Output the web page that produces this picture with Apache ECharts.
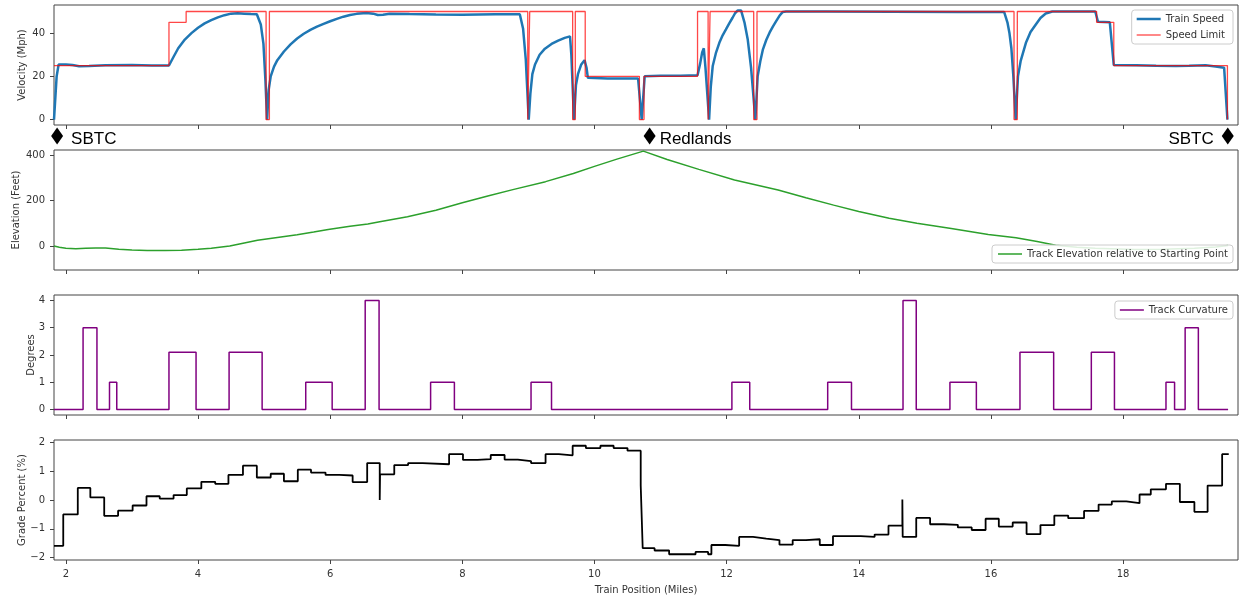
<!DOCTYPE html>
<html><head><meta charset="utf-8">
<script src="https://cdn.jsdelivr.net/npm/echarts@6/dist/echarts.min.js"></script>
<style>html,body{margin:0;padding:0;background:#fff}#c{width:1242px;height:599px}</style>
</head><body><div id="c"></div>
<script>
// ---------------- DATA ----------------
const xTicks = [2, 4, 6, 8, 10, 12, 14, 16, 18];
const speedTicks = [0, 20, 40];
const elevTicks = [0, 200, 400];
const curveTicks = [0, 1, 2, 3, 4];
const gradeTicks = [-2, -1, 0, 1, 2];

const speedX = [1.82,1.86,1.89,2.0,2.1,2.2,2.35,2.6,3.0,3.3,3.56,3.62,3.7,3.8,3.9,4.0,4.1,4.2,4.3,4.4,4.5,4.6,4.7,4.8,4.89,4.95,4.99,5.02,5.045,5.07,5.1,5.15,5.2,5.3,5.4,5.5,5.6,5.7,5.8,5.9,6.0,6.1,6.2,6.3,6.4,6.55,6.65,6.72,6.8,6.9,7.2,7.6,8.0,8.5,8.87,8.92,8.96,9.005,9.03,9.06,9.1,9.17,9.25,9.35,9.45,9.55,9.63,9.65,9.69,9.72,9.75,9.8,9.85,9.88,9.9,10.2,10.5,10.66,10.715,10.76,11.0,11.3,11.56,11.6,11.63,11.655,11.68,11.735,11.76,11.79,11.84,11.89,11.94,11.99,12.04,12.09,12.13,12.17,12.22,12.27,12.32,12.37,12.435,12.47,12.51,12.55,12.6,12.65,12.7,12.75,12.8,12.85,12.9,13.5,14.5,15.5,16.2,16.25,16.28,16.31,16.34,16.375,16.41,16.45,16.53,16.6,16.68,16.75,16.83,16.93,17.58,17.62,17.8,17.86,18.2,18.5,18.8,19.0,19.25,19.4,19.53,19.58];
const speedV = [0,20,25.5,25.5,25.2,24.7,24.8,25.1,25.2,25.0,25.0,28.5,33,37,40,42.5,44.5,46,47.3,48.3,49,49.2,49,48.8,48.7,44,35,18,0,14,20,24.5,27.5,31.5,34.8,37.5,39.7,41.5,43,44.3,45.5,46.6,47.6,48.4,48.9,49.3,49,48.4,48.5,49,48.8,48.6,48.5,48.7,48.7,42,28,0,12,21,25.5,30,32.8,35,36.5,37.8,38.5,30,0,16,21,25.5,27.5,24,19.3,19,19,19,0,20,20.3,20.3,20.5,26,31,33,24,0,15,24.8,31,35.5,39,41.7,44.5,47.1,49.3,50.5,50.4,45,37,24,0,20,27,32.5,36.8,40.2,43,45.5,48,49.8,50,50,49.9,49.8,49.8,45,40.2,33,20,0,20,27,35.5,40.5,44,47,49.1,50,50,45.3,45,25.2,25.1,24.9,24.8,24.9,25.1,24.6,24,0];

const limitX = [1.82,3.56,3.82,5.03,5.08,8.99,9.02,9.67,9.71,9.86,10.68,10.75,11.56,11.72,11.75,12.41,12.46,16.35,16.40,17.60,17.86,19.58];
const limitV = [25,45,50,0,50,0,50,0,50,20,0,20,50,0,50,0,50,0,50,45,25,0];

const elevX = [1.82,1.9,2.0,2.15,2.3,2.45,2.6,2.8,3.0,3.23,3.5,3.75,4.0,4.2,4.48,4.7,4.9,5.2,5.5,5.75,5.97,6.3,6.57,6.75,7.17,7.6,8.0,8.4,8.78,9.26,9.68,10.0,10.34,10.74,11.1,11.58,12.12,12.78,13.2,13.62,14.0,14.46,14.88,15.4,15.96,16.38,16.7,16.98,17.3,17.58,18.18,18.6,19.08,19.4,19.59];
const elevV = [0,-5,-9,-12,-10,-8,-8.5,-14,-17,-19,-19.5,-18,-14,-9,0,14,26,38,50,62,73,87,97,107,129,157,190,221,249,283,319,350,382,417,380,337,290,246,212,180,152,122,100,77,51,37,20,4,-5,-10,-15,-14,-10,-4,3];

const curveX = [1.82,2.26,2.47,2.66,2.77,3.56,3.97,4.47,4.97,5.63,6.03,6.53,6.74,7.52,7.88,9.04,9.35,12.08,12.35,13.53,13.89,14.67,14.87,15.38,15.78,16.44,16.95,17.52,17.87,18.65,18.78,18.94,19.14,19.59];
const curveV = [0,3,0,1,0,2.1,0,2.1,0,1,0,4,0,1,0,1,0,1,0,1,0,4,0,1,0,2.1,0,2.1,0,1,0,3,0,0];

const gradeX = [1.82,1.96,2.18,2.37,2.58,2.79,3.01,3.22,3.42,3.63,3.83,4.05,4.26,4.46,4.68,4.89,5.10,5.30,5.51,5.71,5.93,6.14,6.34,6.56,6.75,6.755,6.97,7.18,7.40,7.80,8.01,8.23,8.43,8.64,8.84,9.04,9.26,9.46,9.67,9.87,10.09,10.29,10.50,10.70,10.73,10.91,11.13,11.53,11.72,11.77,11.98,12.19,12.40,12.60,12.80,13.00,13.20,13.41,13.61,14.03,14.24,14.45,14.66,14.665,14.87,15.08,15.29,15.50,15.71,15.92,16.12,16.33,16.54,16.75,16.96,17.17,17.41,17.63,17.83,18.05,18.25,18.42,18.65,18.86,19.08,19.28,19.50,19.60];
const gradeV = [-1.59,-0.5,0.42,0.09,-0.55,-0.37,-0.19,0.13,0.05,0.17,0.40,0.63,0.56,0.87,1.19,0.78,0.91,0.65,1.05,0.95,0.87,0.85,0.62,1.28,0,0.89,1.21,1.28,1.24,1.59,1.39,1.42,1.56,1.40,1.35,1.28,1.59,1.55,1.88,1.80,1.88,1.80,1.71,0.50,-1.67,-1.75,-1.88,-1.80,-1.88,-1.56,-1.59,-1.28,-1.34,-1.39,-1.55,-1.39,-1.36,-1.56,-1.25,-1.28,-1.20,-0.89,0.02,-1.28,-0.62,-0.84,-0.86,-0.95,-1.04,-0.65,-0.92,-0.78,-1.18,-0.87,-0.54,-0.63,-0.38,-0.16,-0.05,-0.11,0.19,0.37,0.56,-0.07,-0.41,0.50,1.59,1.59];

const stationNames = ['SBTC', 'Redlands', 'SBTC'];
const stationX = [1.867, 10.835, 19.585];

// ---------------- LAYOUT / STYLE ----------------
const X_MIN = 1.82, X_MAX = 19.74;
const FONT = 'DejaVu Sans';
const TXT = '#333';
const SPINE = '#444';
const stationLabelGap = [8, 4, 8];

const zip = (xs, ys) => xs.map((x, i) => [x, ys[i]]);
const minus = v => String(v).replace('-', '\u2212');
const lineIcon = w => 'path://M0,0L24,0L24,' + w + 'L0,' + w + 'Z';

const grids = [
  {left: 54, right: 4, top: 5, height: 120},
  {left: 54, right: 4, top: 126, height: 20},
  {left: 54, right: 4, top: 150, height: 120},
  {left: 54, right: 4, top: 295, height: 120},
  {left: 54, right: 4, top: 440, height: 120}
].map((g, i) => Object.assign(g, {
  show: i !== 1, borderColor: SPINE, borderWidth: 1, backgroundColor: 'transparent',
  containLabel: false, outerBoundsMode: 'none'
}));

function mkX(gi) {
  const last = gi === 4;
  return {
    type: 'value', gridIndex: gi, min: X_MIN, max: X_MAX, position: 'bottom',
    axisLine: {show: false, onZero: false}, splitLine: {show: false},
    axisTick: {show: gi !== 1, length: 4, lineStyle: {color: SPINE}, customValues: xTicks},
    axisLabel: {show: last, customValues: xTicks, margin: 9, fontFamily: FONT, fontSize: 10, color: TXT,
      formatter: minus},
    name: last ? 'Train Position (Miles)' : '', nameLocation: 'middle', nameGap: 25,
    nameMoveOverlap: false,
    nameTextStyle: {fontFamily: FONT, fontSize: 10, color: TXT}
  };
}
function mkY(gi, min, max, ticks, name, gap) {
  return {
    type: 'value', gridIndex: gi, min, max, show: gi !== 1, position: 'left',
    axisLine: {show: false, onZero: false}, splitLine: {show: false},
    axisTick: {show: true, length: 4, lineStyle: {color: SPINE}, customValues: ticks},
    axisLabel: {customValues: ticks, margin: 9, fontFamily: FONT, fontSize: 10, color: TXT, formatter: minus},
    name, nameLocation: 'middle', nameRotate: 90, nameGap: gap, nameMoveOverlap: false,
    nameTextStyle: {fontFamily: FONT, fontSize: 10, color: TXT}
  };
}

const legendBase = {
  orient: 'vertical', right: 9, itemWidth: 24, itemHeight: 12, itemGap: 6,
  backgroundColor: 'rgba(255,255,255,0.85)', borderColor: '#ccc', borderWidth: 1, borderRadius: 3,
  textStyle: {fontFamily: FONT, fontSize: 10, color: TXT}
};

const option = {
  animation: false,
  backgroundColor: '#fff',
  grid: grids,
  xAxis: [0, 1, 2, 3, 4].map(mkX),
  yAxis: [
    mkY(0, -2.5, 53, speedTicks, 'Velocity (Mph)', 27),
    mkY(1, 0, 1, [], '', 0),
    mkY(2, -105, 422, elevTicks, 'Elevation (Feet)', 33),
    mkY(3, -0.2, 4.2, curveTicks, 'Degrees', 18),
    mkY(4, -2.08, 2.08, gradeTicks, 'Grade Percent (%)', 27)
  ],
  legend: [
    Object.assign({}, legendBase, {data: [
      {name: 'Train Speed', icon: lineIcon(2.5)},
      {name: 'Speed Limit', icon: lineIcon(1.3)}], top: 10, padding: [4, 8, 4, 5]}),
    Object.assign({}, legendBase, {data: [
      {name: 'Track Elevation relative to Starting Point', icon: lineIcon(1.5)}], top: 245, padding: [4, 5, 4, 6]}),
    Object.assign({}, legendBase, {data: [
      {name: 'Track Curvature', icon: lineIcon(1.5)}], top: 301, padding: [4, 5, 4, 5]})
  ],
  series: [
    {name: 'Train Speed', type: 'line', xAxisIndex: 0, yAxisIndex: 0, symbol: 'none',
     data: zip(speedX, speedV), lineStyle: {color: '#1f77b4', width: 2.5}, itemStyle: {color: '#1f77b4'}},
    {name: 'Speed Limit', type: 'line', xAxisIndex: 0, yAxisIndex: 0, symbol: 'none', step: 'end',
     data: zip(limitX, limitV), lineStyle: {color: '#ff0000', width: 1.3, opacity: 0.72}, itemStyle: {color: 'rgba(255,0,0,0.72)'}},
    {name: 'station', type: 'scatter', xAxisIndex: 1, yAxisIndex: 1, symbol: 'diamond', symbolSize: [12, 17],
     clip: false, itemStyle: {color: '#000', opacity: 1}, emphasis: {disabled: true},
     data: stationNames.map((n, i) => ({
       name: n, value: [stationX[i], 0.5],
       label: {show: true, position: i === stationNames.length - 1 ? 'left' : 'right',
         distance: stationLabelGap[i], offset: [0, 3], formatter: '{b}',
         fontFamily: 'Liberation Sans', fontSize: 17, color: '#000', opacity: 1}
     }))},
    {name: 'Track Elevation relative to Starting Point', type: 'line', xAxisIndex: 2, yAxisIndex: 2, symbol: 'none',
     data: zip(elevX, elevV), lineStyle: {color: '#2ca02c', width: 1.5}, itemStyle: {color: '#2ca02c'}},
    {name: 'Track Curvature', type: 'line', xAxisIndex: 3, yAxisIndex: 3, symbol: 'none', step: 'end',
     data: zip(curveX, curveV), lineStyle: {color: '#800080', width: 1.5}, itemStyle: {color: '#800080'}},
    {name: 'Grade', type: 'line', xAxisIndex: 4, yAxisIndex: 4, symbol: 'none', step: 'end',
     data: zip(gradeX, gradeV), lineStyle: {color: '#000', width: 1.8}, itemStyle: {color: '#000'}}
  ]
};

const chart = echarts.init(document.getElementById('c'), null, {renderer: 'canvas'});
chart.setOption(option);
</script></body></html>
